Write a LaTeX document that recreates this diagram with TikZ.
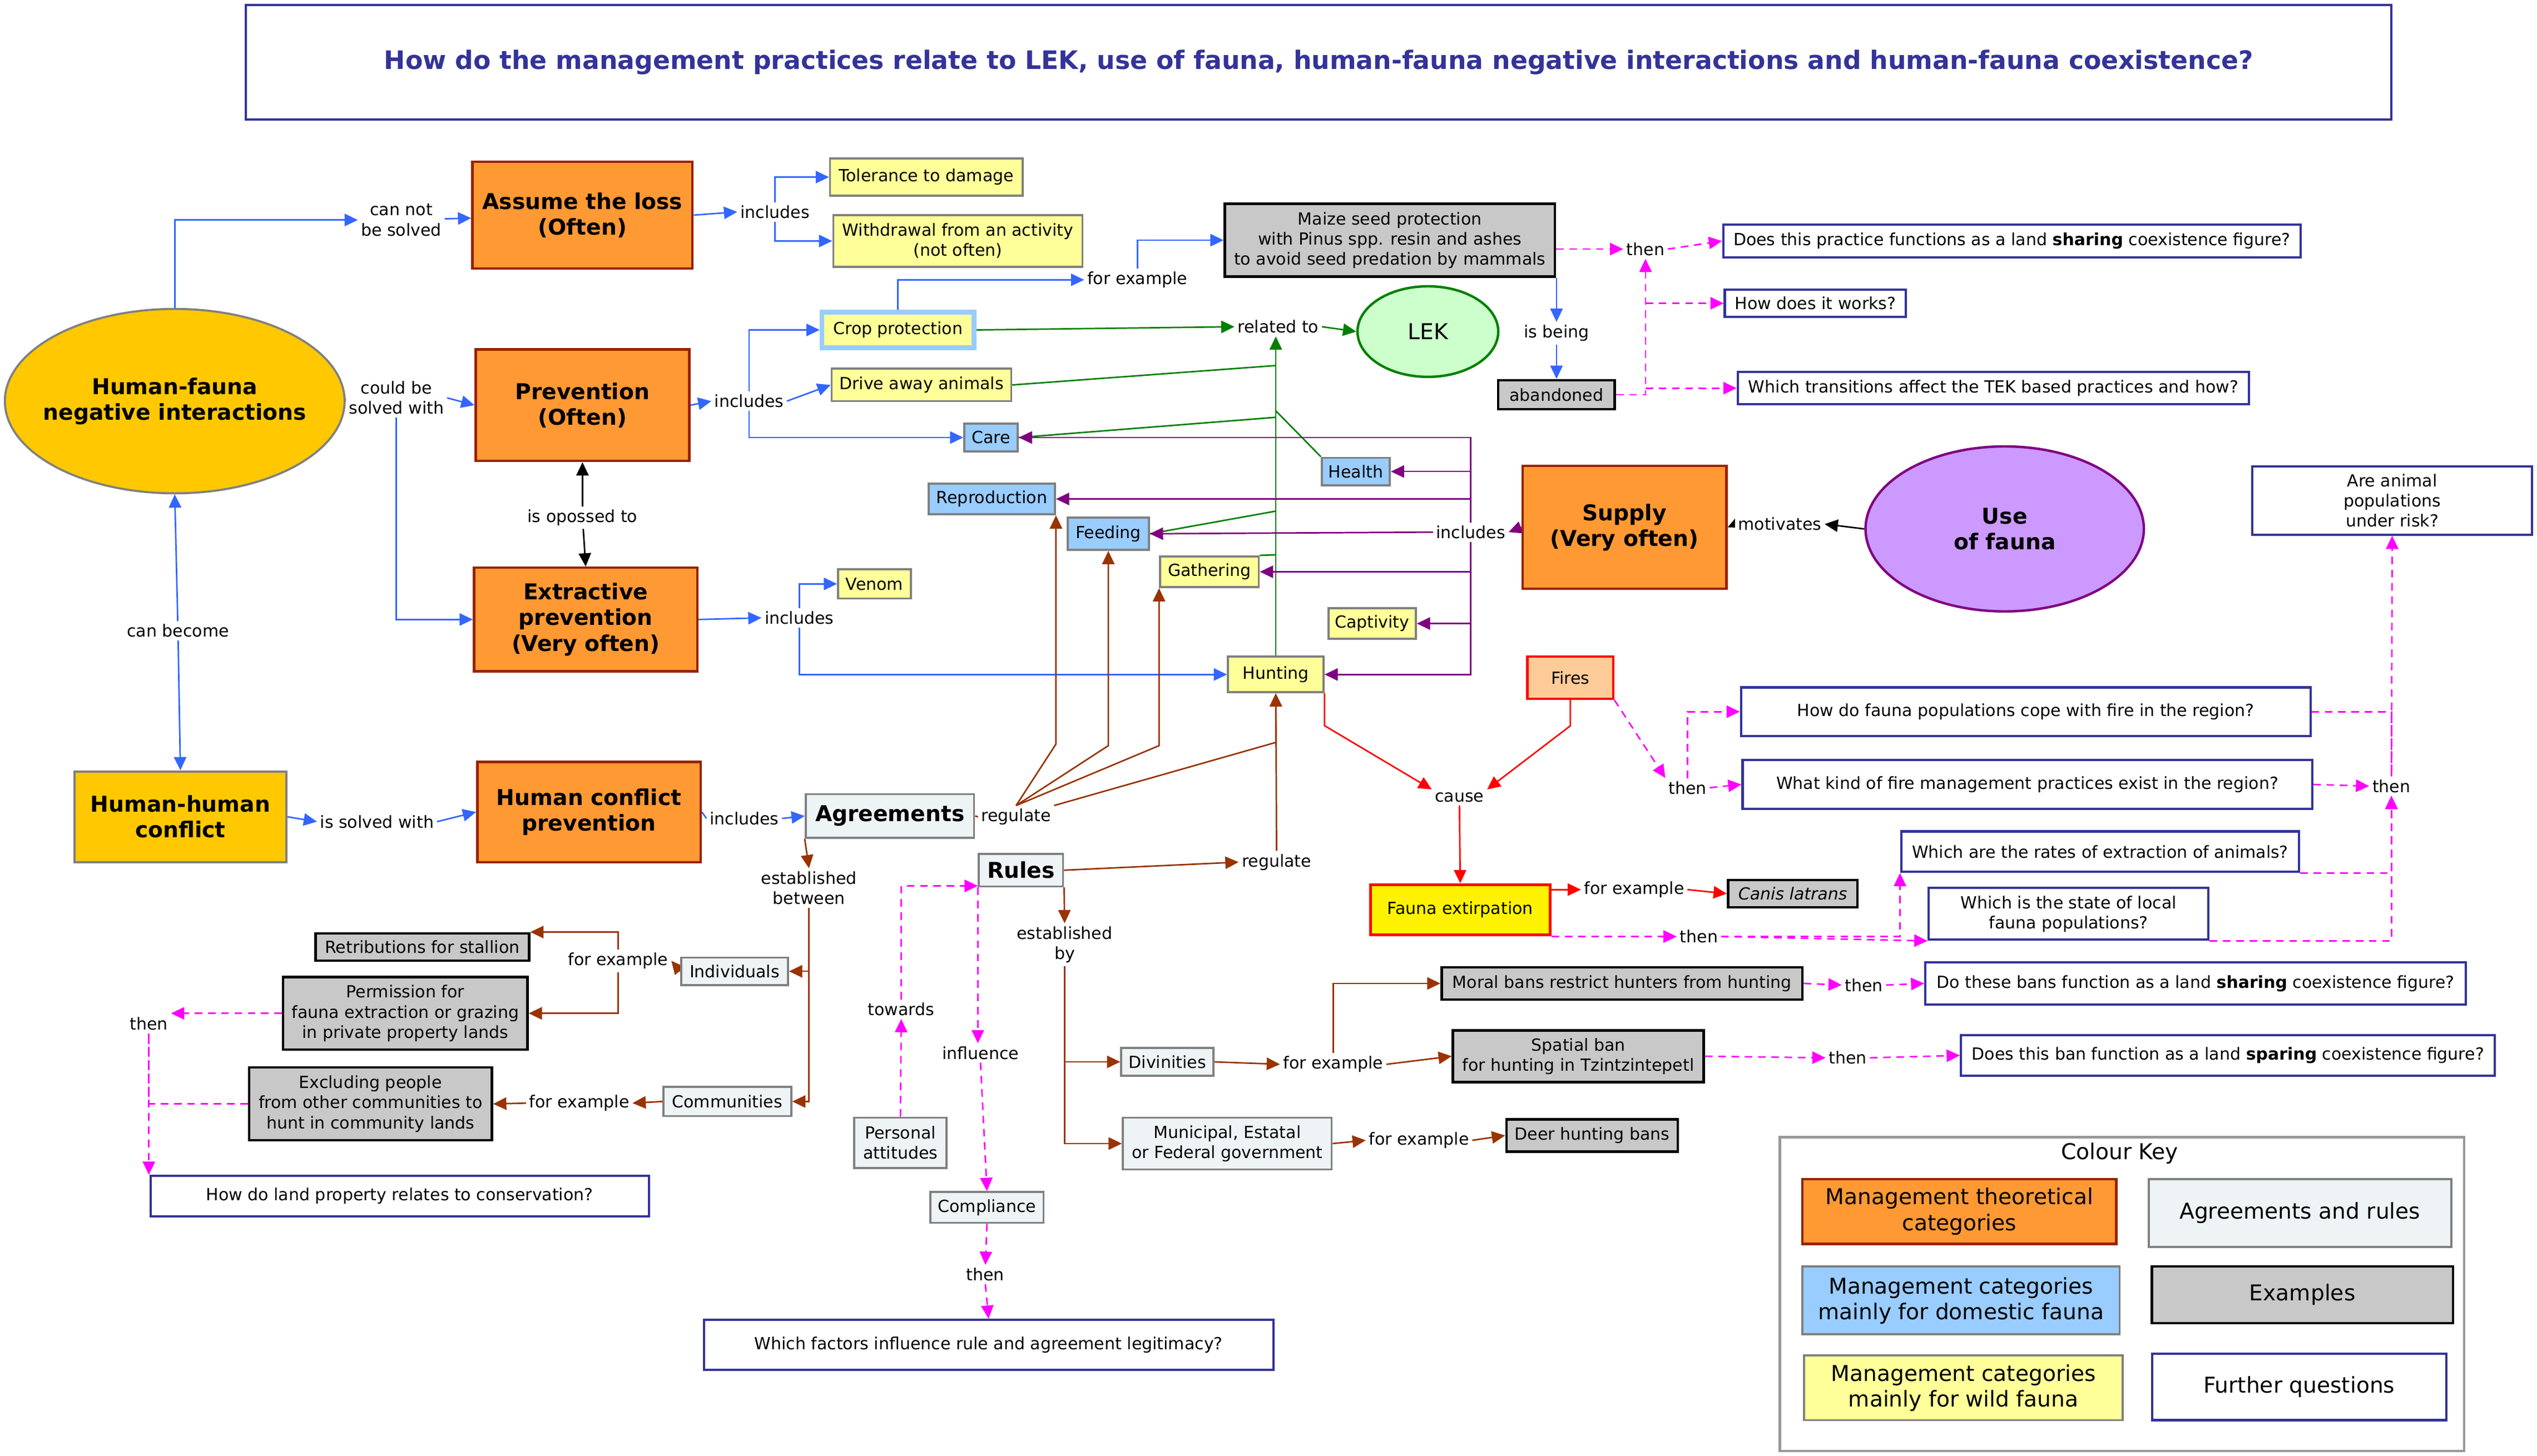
\documentclass[tikz,border=0pt]{standalone}
\usepackage{fontspec}
\setmainfont{DejaVu Sans}
\usetikzlibrary{arrows.meta,shapes.geometric,backgrounds}

\definecolor{theoryfill}{HTML}{FF9933}
\definecolor{theoryline}{HTML}{992200}
\definecolor{goldfill}{HTML}{FFC800}
\definecolor{wildfill}{HTML}{FFFF99}
\definecolor{domfill}{HTML}{99CCFF}
\definecolor{pactfill}{HTML}{EEF3F5}
\definecolor{exfill}{HTML}{C8C8C8}
\definecolor{boxgray}{HTML}{808080}
\definecolor{qblue}{HTML}{333399}
\definecolor{arrblue}{HTML}{3366FF}
\definecolor{arrgreen}{HTML}{008000}
\definecolor{arrpurple}{HTML}{800080}
\definecolor{arrbrown}{HTML}{993300}
\definecolor{arrmag}{HTML}{FF00FF}
\definecolor{lekfill}{HTML}{CCFFCC}
\definecolor{usefill}{HTML}{CC99FF}
\definecolor{firefill}{HTML}{FFCC99}

\tikzset{
  every node/.style={font=\fontsize{8.8}{10.6}\selectfont, inner sep=1pt},
  sz/.style 2 args={minimum width=#1*0.03cm, minimum height=#2*0.03cm},
  bigbold/.style={font=\fontsize{11.5}{13.5}\selectfont\bfseries},
  keytext/.style={font=\fontsize{11.5}{13.5}\selectfont},
  theory/.style={draw=theoryline, fill=theoryfill, line width=1.3pt, align=center, bigbold},
  wild/.style={draw=boxgray, fill=wildfill, line width=1.1pt, align=center},
  domestic/.style={draw=boxgray, fill=domfill, line width=1.1pt, align=center},
  pact/.style={draw=boxgray, fill=pactfill, line width=1.1pt, align=center},
  example/.style={draw=black, fill=exfill, line width=1.3pt, align=center},
  question/.style={draw=qblue, fill=white, line width=1.2pt, align=center},
  lnk/.style={fill=white, align=center, inner sep=1.5pt},
  conn/.style={line width=0.8pt},
  arr/.style={conn, -{Triangle[length=7pt,width=6.5pt]}},
  blline/.style={conn, draw=arrblue}, blarr/.style={arr, draw=arrblue},
  grline/.style={conn, draw=arrgreen}, grarr/.style={arr, draw=arrgreen},
  puarr/.style={arr, draw=arrpurple},
  brline/.style={conn, draw=arrbrown}, brarr/.style={arr, draw=arrbrown},
  rdarr/.style={arr, draw=red},
  bkarr/.style={arr, draw=black},
  mgline/.style={conn, draw=arrmag, dash pattern=on 4pt off 3pt},
  mgarr/.style={arr, draw=arrmag, dash pattern=on 4pt off 3pt}
}

\begin{document}
\begin{tikzpicture}[x=0.03cm,y=-0.03cm]
\useasboundingbox (0,0) rectangle (1568,900);

\node[question, sz={1326}{71}, text=qblue, font=\fontsize{13.4}{15}\selectfont\bfseries] (title) at (815,38.5)
  {How do the management practices relate to LEK, use of fauna, human-fauna negative interactions and human-fauna coexistence?};

% theoretical categories
\node[ellipse, draw=boxgray, fill=goldfill, line width=1.1pt, sz={210}{114}] (hfni) at (108,248) {};
\node[bigbold, align=center] at (hfni) {Human-fauna\\negative interactions};
\node[theory, sz={136}{66}] (assume) at (360,133) {Assume the loss\\(Often)};
\node[theory, sz={132}{69}] (prev) at (360,250.5) {Prevention\\(Often)};
\node[theory, sz={138}{64}] (extr) at (362,383) {Extractive\\prevention\\(Very often)};
\node[theory, draw=boxgray, fill=goldfill, sz={131}{56}] (hh) at (111.5,505) {Human-human\\conflict};
\node[theory, sz={138}{62}] (hcp) at (364,502) {Human conflict\\prevention};
\node[theory, sz={126}{76}] (supply) at (1004,326) {Supply\\(Very often)};
\node[ellipse, draw=arrpurple, fill=usefill, line width=1.3pt, sz={172}{102}, bigbold, align=center] (useof) at (1239,327) {Use\\of fauna};
\node[ellipse, draw=arrgreen, fill=lekfill, line width=1.3pt, sz={87}{56}, keytext] (lek) at (882.5,205) {LEK};

% management categories
\node[wild, sz={119}{23}] (tol) at (572.5,109.5) {Tolerance to damage};
\node[wild, sz={154}{32}] (withd) at (592,149) {Withdrawal from an activity\\(not often)};
\node[wild, draw=domfill, line width=2.4pt, sz={94}{22}] (crop) at (555,204) {Crop protection};
\node[wild, sz={111}{20}] (drive) at (569.5,238) {Drive away animals};
\node[domestic, sz={33}{17}] (care) at (612.5,270.5) {Care};
\node[domestic, sz={42}{17}] (health) at (838,291.5) {Health};
\node[domestic, sz={78}{19}] (repro) at (613,308.5) {Reproduction};
\node[domestic, sz={50}{20}] (feeding) at (685,330) {Feeding};
\node[wild, sz={61}{19}] (gathering) at (747.5,353.5) {Gathering};
\node[wild, sz={54}{19}] (captivity) at (848,385.5) {Captivity};
\node[wild, sz={45}{18}] (venom) at (540.5,361) {Venom};
\node[wild, sz={59}{22}] (hunting) at (788.5,417) {Hunting};
\node[draw=red, fill=firefill, line width=1.3pt, sz={53}{26}] (fires) at (970.5,419) {Fires};
\node[draw=red, fill=yellow, line width=1.6pt, sz={111}{31}] (fext) at (902.5,562.5) {Fauna extirpation};

% agreements and rules
\node[pact, sz={104}{27}, bigbold] (agree) at (550,504.5) {Agreements};
\node[pact, sz={52}{20}, bigbold] (rules) at (631,538) {Rules};
\node[pact, sz={66}{17}] (indiv) at (454,600.5) {Individuals};
\node[pact, sz={79}{18}] (comm) at (449.5,681) {Communities};
\node[pact, sz={57}{17}] (divin) at (721.5,656.5) {Divinities};
\node[pact, sz={129}{32}] (munic) at (758.5,707) {Municipal, Estatal\\or Federal government};
\node[pact, sz={57}{31}] (persatt) at (556.5,706.5) {Personal\\attitudes};
\node[pact, sz={70}{19}] (compl) at (610,746.5) {Compliance};

% examples
\node[example, sz={204}{45}] (maize) at (859,148.5) {Maize seed protection\\with Pinus spp. resin and ashes\\to avoid seed predation by mammals};
\node[example, sz={72}{18}] (aband) at (962,244) {abandoned};
\node[example, sz={80}{17}] (canis) at (1108,552.5) {\itshape Canis latrans};
\node[example, sz={132}{17}] (retrib) at (261,585.5) {Retributions for stallion};
\node[example, sz={151}{45}] (perm) at (250.5,626.5) {Permission for\\fauna extraction or grazing\\in private property lands};
\node[example, sz={150}{45}] (excl) at (229,682.5) {Excluding people\\from other communities to\\hunt in community lands};
\node[example, sz={223}{20}] (moral) at (1002.5,608) {Moral bans restrict hunters from hunting};
\node[example, sz={155}{32}] (spatial) at (975.5,653) {Spatial ban\\for hunting in Tzintzintepetl};
\node[example, sz={106}{20}] (deer) at (984,702) {Deer hunting bans};

% further questions
\node[question, sz={357}{20}] (qshare) at (1243.5,149) {Does this practice functions as a land \textbf{sharing} coexistence figure?};
\node[question, sz={112}{17}] (qworks) at (1122,187.5) {How does it works?};
\node[question, sz={316}{20}] (qtrans) at (1232,240) {Which transitions affect the TEK based practices and how?};
\node[question, sz={173}{42}] (qrisk) at (1478.5,309.5) {Are animal\\populations\\under risk?};
\node[question, sz={352}{30}] (qcope) at (1252,440) {How do fauna populations cope with fire in the region?};
\node[question, sz={352}{30}] (qfire) at (1253,485) {What kind of fire management practices exist in the region?};
\node[question, sz={246}{25}] (qrates) at (1298,526.5) {Which are the rates of extraction of animals?};
\node[question, sz={173}{32}] (qstate) at (1278.5,565) {Which is the state of local\\fauna populations?};
\node[question, sz={334}{26}] (qbshare) at (1357,608) {Do these bans function as a land \textbf{sharing} coexistence figure?};
\node[question, sz={330}{25}] (qbspare) at (1377,652.5) {Does this ban function as a land \textbf{sparing} coexistence figure?};
\node[question, sz={308}{25}] (qland) at (247,739.5) {How do land property relates to conservation?};
\node[question, sz={352}{31}] (qlegit) at (611,831.5) {Which factors influence rule and agreement legitimacy?};

% linking phrases
\node[lnk] (lcannot) at (248,136) {can not\\be solved};
\node[lnk] (lcould) at (245,246) {could be\\solved with};
\node[lnk] (lbecome) at (110,390) {can become};
\node[lnk] (lsolved) at (233,508) {is solved with};
\node[lnk] (lopposed) at (360,320) {is opossed to};
\node[lnk] (linc1) at (479,131) {includes};
\node[lnk] (linc2) at (463,248) {includes};
\node[lnk] (linc3) at (494,382) {includes};
\node[lnk] (linc4) at (460,506) {includes};
\node[lnk] (linc5) at (909,329) {includes};
\node[lnk] (lforex1) at (703,173) {for example};
\node[lnk] (lrelated) at (790,202) {related to};
\node[lnk] (lisbeing) at (962,206) {is being};
\node[lnk] (lthen1) at (1017,154) {then};
\node[lnk] (lmotiv) at (1100,324) {motivates};
\node[lnk] (lcause) at (902,493) {cause};
\node[lnk] (lforex2) at (1010,550) {for example};
\node[lnk] (lthen2) at (1050,579) {then};
\node[lnk] (lthen3) at (1043,487) {then};
\node[lnk] (lthen4) at (1478,486) {then};
\node[lnk] (lreg1) at (628,505) {regulate};
\node[lnk] (lreg2) at (789,533) {regulate};
\node[lnk] (lestb) at (500,549) {established\\between};
\node[lnk] (lestby) at (658,584) {established\\by};
\node[lnk] (lforex3) at (382,594) {for example};
\node[lnk] (lforex4) at (358,682) {for example};
\node[lnk] (lthen5) at (92,633) {then};
\node[lnk] (lforex5) at (824,658) {for example};
\node[lnk] (lforex6) at (877,705) {for example};
\node[lnk] (lthen6) at (1152,609) {then};
\node[lnk] (lthen7) at (1142,654) {then};
\node[lnk] (ltowards) at (557,624) {towards};
\node[lnk] (linfl) at (606,651) {influence};
\node[lnk] (lthen8) at (609,788) {then};

% colour key
\node[draw=boxgray!80, line width=1.3pt, sz={423}{194}] (key) at (1311.5,800) {};
\node[keytext] (keytitle) at (1310,713) {Colour Key};
\node[theory, keytext, sz={194}{40}] (k1) at (1211,749) {Management theoretical\\categories};
\node[pact, keytext, sz={187}{42}] (k2) at (1421.5,750) {Agreements and rules};
\node[domestic, keytext, sz={196}{42}] (k3) at (1212,804) {Management categories\\mainly for domestic fauna};
\node[example, keytext, sz={186}{35}] (k4) at (1423,800.5) {Examples};
\node[wild, keytext, sz={197}{40}] (k5) at (1213.5,858) {Management categories\\mainly for wild fauna};
\node[question, keytext, sz={182}{41}] (k6) at (1421,857.5) {Further questions};

\begin{scope}[on background layer]
% blue
\draw[blarr] (hfni.north) |- (lcannot.west);
\draw[blarr] (lcannot) -- (assume);
\draw[blline] (hfni.east) -- (lcould.west);
\draw[blarr] (lcould.east) -- (prev.west);
\draw[blarr] (lcould.south) |- (extr.west);
\draw[blarr] (lbecome) -- (hfni.south);
\draw[blarr] (lbecome) -- (hh.north);
\draw[blarr] (hh.east) -- (lsolved.west);
\draw[blarr] (lsolved.east) -- (hcp.west);
\draw[blarr] (assume.east) -- (linc1.west);
\draw[blarr] (linc1.north) |- (tol.west);
\draw[blarr] (linc1.south) |- (withd.west);
\draw[blarr] (prev.east) -- (linc2.west);
\draw[blarr] (linc2.north) |- (crop.west);
\draw[blarr] (linc2.east) -- (drive.west);
\draw[blarr] (linc2.south) |- (care.west);
\draw[blarr] (extr.east) -- (linc3.west);
\draw[blarr] (linc3.north) |- (venom.west);
\draw[blarr] (linc3.south) |- (hunting.west);
\draw[blline] (hcp.east) -- (linc4.west);
\draw[blarr] (linc4.east) -- (agree.west);
\draw[blarr] (crop.north) |- (lforex1.west);
\draw[blarr] (lforex1.north) |- (maize.west);
\draw[blarr] (lisbeing.north |- maize.south) -- (lisbeing.north);
\draw[blarr] (lisbeing.south) -- (aband.north);
% black
\draw[bkarr] (lopposed) -- (prev.south);
\draw[bkarr] (lopposed) -- (extr.north);
\draw[bkarr] (useof.west) -- (lmotiv.east);
\draw[bkarr] (lmotiv.west) -- (supply.east);
% green
\draw[grarr] (crop.east) -- (lrelated.west);
\draw[grarr] (lrelated.east) -- (lek.west);
\draw[grarr] (hunting.north) -- (hunting.north |- lrelated.south);
\draw[grline] (drive.east) -- (hunting.north |- 0,226);
\draw[grline] (care.east) -- (hunting.north |- 0,258);
\draw[grline] (health.north west) -- (hunting.north |- 0,254);
\draw[grline] (feeding.east) -- (hunting.north |- 0,316);
\draw[grline] (gathering.north east) -- (hunting.north |- 0,343);
% purple
\draw[puarr] (supply.west) -- (linc5.east);
\draw[puarr] (linc5.north) |- (care.east);
\draw[puarr] (linc5.north) |- (health.east);
\draw[puarr] (linc5.north) |- (repro.east);
\draw[puarr] (linc5.west) -- (feeding.east);
\draw[puarr] (linc5.south) |- (gathering.east);
\draw[puarr] (linc5.south) |- (captivity.east);
\draw[puarr] (linc5.south) |- (hunting.east);
% red
\draw[rdarr] (hunting.south east) -- ++(0,20) -- (lcause.north west);
\draw[rdarr] (fires.south) -- ++(0,16) -- (lcause.north east);
\draw[rdarr] (lcause.south) -- (fext.north);
\draw[rdarr] (lforex2.west -| fext.east) -- (lforex2.west);
\draw[rdarr] (lforex2.east) -- (canis.west);
% brown
\draw[brline] (agree.east) -- (lreg1.west);
\draw[brarr] (lreg1.north) -- (repro.south east |- 0,460) -- (repro.south east);
\draw[brarr] (lreg1.north) -- (feeding.south |- 0,461) -- (feeding.south);
\draw[brarr] (lreg1.north) -- (gathering.south west |- 0,461) -- (gathering.south west);
\draw[brarr] (lreg1.north east) -- (hunting.south |- 0,459) -- (hunting.south);
\draw[brarr] (rules.east) -- (lreg2.west);
\draw[brarr] (lreg2.north) -- (hunting.south);
\draw[brarr] (agree.south west) -- (lestb.north);
\draw[brarr] (lestb.south) |- (indiv.east);
\draw[brarr] (lestb.south) |- (comm.east);
\draw[brarr] (indiv.west) -- (lforex3.east);
\draw[brarr] (lforex3.north) |- (retrib.north east);
\draw[brarr] (lforex3.south) |- (perm.east);
\draw[brarr] (comm.west) -- (lforex4.east);
\draw[brarr] (lforex4.west) -- (excl.east);
\draw[brarr] (rules.south east) -- (lestby.north);
\draw[brarr] (lestby.south) |- (divin.west);
\draw[brarr] (lestby.south) |- (munic.west);
\draw[brarr] (divin.east) -- (lforex5.west);
\draw[brarr] (lforex5.north) |- (moral.west);
\draw[brarr] (lforex5.east) -- (spatial.west);
\draw[brarr] (munic.east) -- (lforex6.west);
\draw[brarr] (lforex6.east) -- (deer.west);
% magenta
\draw[mgarr] (lthen1.west -| maize.east) -- (lthen1.west);
\draw[mgarr] (lthen1.east) -- (qshare.west);
\draw[mgarr] (aband.east) -| (lthen1.south);
\draw[mgarr] (lthen1.south |- qworks.west) -- (qworks.west);
\draw[mgarr] (lthen1.south |- qtrans.west) -- (qtrans.west);
\draw[mgarr] (fires.south east) -- (lthen3.north west);
\draw[mgarr] (lthen3.north) |- (qcope.west);
\draw[mgarr] (lthen3.east) -- (qfire.west);
\draw[mgarr] (qfire.east) -- (lthen4.west);
\draw[mgline] (qcope.east) -| (lthen4.north);
\draw[mgarr] (lthen4.north) -- (qrisk.south);
\draw[mgarr] (qrates.south east) -| (lthen4.south);
\draw[mgarr] (qstate.south east) -| (lthen4.south);
\draw[mgarr] (fext.south east) -- (lthen2.west);
\draw[mgarr] (lthen2.east) -- (qstate.south west);
\draw[mgarr] (lthen2.east) -| (qrates.south west);
\draw[mgarr] (moral.east) -- (lthen6.west);
\draw[mgarr] (lthen6.east) -- (qbshare.west);
\draw[mgarr] (spatial.east) -- (lthen7.west);
\draw[mgarr] (lthen7.east) -- (qbspare.west);
\draw[mgarr] (perm.west) -- (perm.west -| lthen5.east);
\draw[mgline] (excl.west) -| (lthen5.south);
\draw[mgarr] (lthen5.south) -- (lthen5.south |- qland.north);
\draw[mgarr] (rules.south west) -- (rules.south west |- linfl.north);
\draw[mgarr] (linfl.south) -- (compl.north);
\draw[mgarr] (compl.south) -- (lthen8.north);
\draw[mgarr] (lthen8.south) -- (qlegit.north);
\draw[mgarr] (persatt.north) -- (ltowards.south);
\draw[mgarr] (ltowards.north) |- (rules.200);
\end{scope}
\end{tikzpicture}
\end{document}
